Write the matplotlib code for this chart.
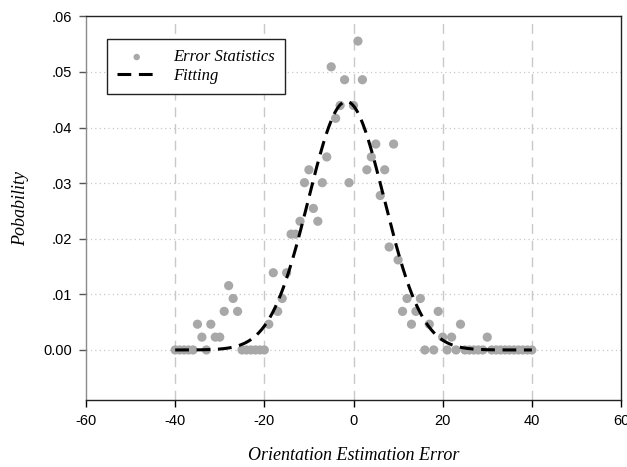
import numpy as np
import matplotlib
matplotlib.use("Agg")
import matplotlib.pyplot as plt

plt.rcParams["axes.unicode_minus"] = False

# Orientation estimation error (degrees) and observed probability per bin
error_deg = list(range(-40, 41))
probability = [
    0.0, 0.0, 0.0, 0.0, 0.0,                      # -40 .. -36
    0.00463, 0.00231, 0.0, 0.00463, 0.00231,      # -35 .. -31
    0.00231, 0.00694, 0.01157, 0.00926, 0.00694,  # -30 .. -26
    0.0, 0.0, 0.0, 0.0, 0.0, 0.0,                 # -25 .. -20
    0.00463, 0.01389, 0.00694, 0.00926, 0.01389,  # -19 .. -15
    0.02083, 0.02083, 0.02315, 0.03009, 0.03241,  # -14 .. -10
    0.02546, 0.02315, 0.03009, 0.03472, 0.05093,  # -9 .. -5
    0.04167, 0.04398, 0.04861, 0.03009,           # -4 .. -1
    0.04398, 0.05556, 0.04861, 0.03241, 0.03472,  # 0 .. 4
    0.03704, 0.02778, 0.03241, 0.01852, 0.03704,  # 5 .. 9
    0.01620, 0.00694, 0.00926, 0.00463, 0.00694,  # 10 .. 14
    0.00926, 0.0, 0.00463, 0.0, 0.00694,          # 15 .. 19
    0.00231, 0.0, 0.00231, 0.0, 0.00463,          # 20 .. 24
    0.0, 0.0, 0.0, 0.0, 0.0, 0.00231,             # 25 .. 30
    0.0, 0.0, 0.0, 0.0, 0.0, 0.0, 0.0, 0.0, 0.0, 0.0,  # 31 .. 40
]

# Gaussian fit parameters
fit_amplitude = 0.0447
fit_mean = -1.6
fit_sigma = 8.5

x_ticks = [-60, -40, -20, 0, 20, 40, 60]
y_ticks = [0.0, 0.01, 0.02, 0.03, 0.04, 0.05, 0.06]
y_tick_labels = ["0.00", ".01", ".02", ".03", ".04", ".05", ".06"]

fig = plt.figure(figsize=(6.27, 4.67), dpi=100)
ax = fig.add_axes([86 / 627, 1 - 400 / 467, 535 / 627, (400 - 16.4) / 467])

ax.set_xlim(-60, 60)
ax.set_ylim(-0.009, 0.06)

# grid: dashed verticals, dotted horizontals
for gx in [-40, -20, 0, 20, 40]:
    ax.axvline(gx, color="#c8c8c8", lw=1.0, ls=(0, (7, 5)), zorder=0)
for gy in [0.0, 0.01, 0.02, 0.03, 0.04, 0.05]:
    ax.axhline(gy, color="#c8c8c8", lw=0.9, ls=(0, (1, 2.5)), zorder=0)

ax.scatter(error_deg, probability, s=44, color="#a8a8a8", edgecolors="none",
           zorder=2, label="Error Statistics")

xf = np.linspace(-40, 40, 400)
yf = fit_amplitude * np.exp(-(xf - fit_mean) ** 2 / (2 * fit_sigma ** 2))
ax.plot(xf, yf, color="black", lw=2.2, ls=(0, (4.5, 2.5)), zorder=3, label="Fitting")

ax.set_xticks(x_ticks)
ax.set_yticks(y_ticks)
ax.set_yticklabels(y_tick_labels)
for lab in ax.get_xticklabels() + ax.get_yticklabels():
    lab.set_family("Liberation Sans")
    lab.set_fontsize(10.5)
ax.tick_params(axis="both", direction="out", length=5, width=1, pad=5)
ax.tick_params(axis="y", color="#555555")

ax.spines["left"].set_color("#8a8a8a")
for side in ["bottom", "top", "right"]:
    ax.spines[side].set_color("#222222")
for sp in ax.spines.values():
    sp.set_linewidth(1.0)

serif_italic = dict(family="Liberation Serif", style="italic", fontsize=13)
ax.set_xlabel("Orientation Estimation Error", labelpad=14, **serif_italic)
ax.set_ylabel("Pobability", labelpad=10, **serif_italic)

leg = ax.legend(loc="upper left", bbox_to_anchor=(0.0387, 0.940), borderaxespad=0,
                frameon=True, fancybox=False, edgecolor="#222222", framealpha=1,
                prop=dict(family="Liberation Serif", style="italic", size=12),
                handlelength=2.4, handletextpad=1.0, borderpad=0.6,
                labelspacing=0.15, scatterpoints=1, markerscale=0.7)
leg.get_frame().set_linewidth(1.0)

fig.savefig("out.png", dpi=100)
